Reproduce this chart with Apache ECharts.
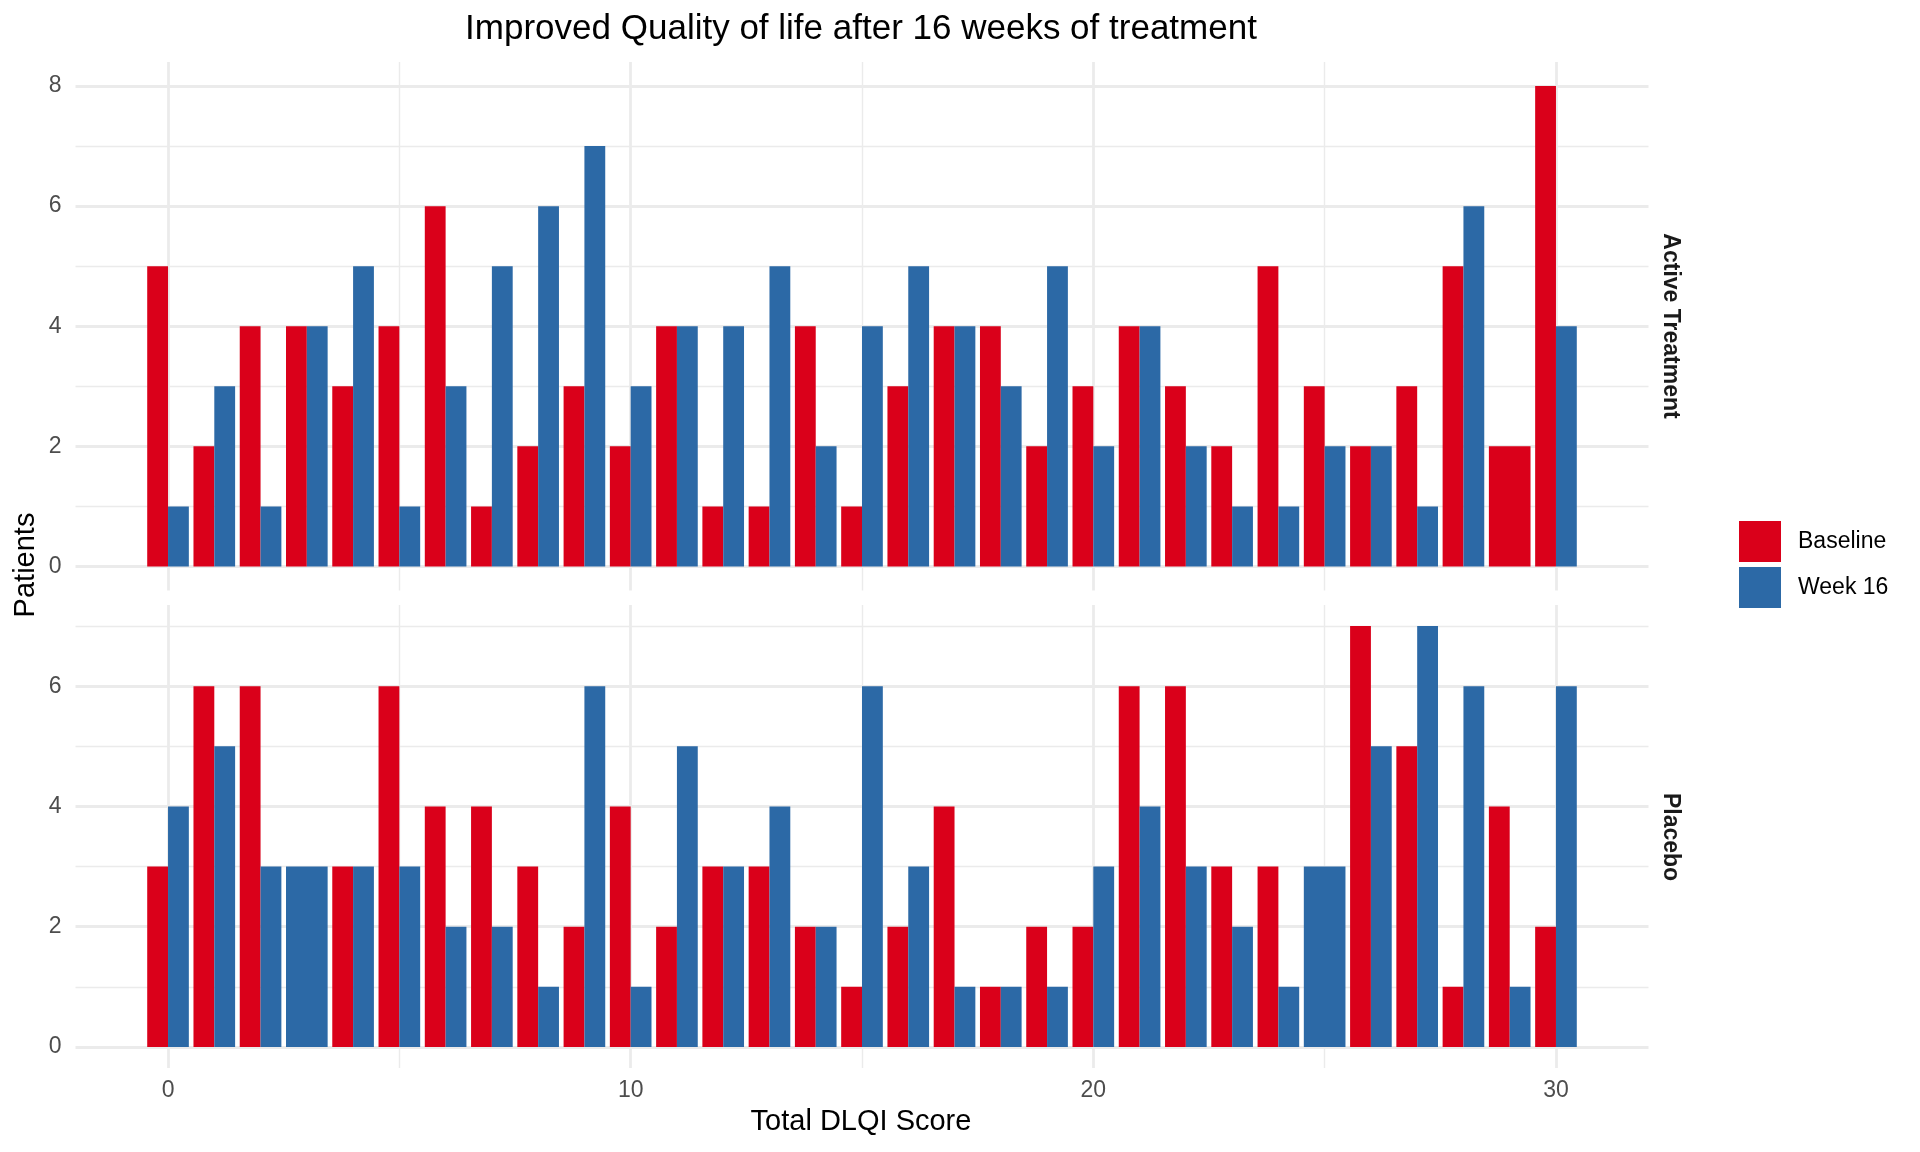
<!DOCTYPE html>
<html>
<head>
<meta charset="utf-8">
<title>Improved Quality of life after 16 weeks of treatment</title>
<script src="https://cdn.jsdelivr.net/npm/echarts@6/dist/echarts.min.js"></script>
<style>
  html, body { margin: 0; padding: 0; background: #fff; }
  #chart { width: 1920px; height: 1152px; }
</style>
</head>
<body>
<div id="chart"></div>
<script>
// Scores on the x axis
var scores = [0, 1, 2, 3, 4, 5, 6, 7, 8, 9, 10, 11, 12, 13, 14, 15, 16, 17, 18, 19, 20,
              21, 22, 23, 24, 25, 26, 27, 28, 29, 30];

// Patients per score (null = no bar)
var activeBaseline  = [5, 2, 4, 4, 3, 4, 6, 1, 2, 3, 2, 4, 1, 1, 4, 1, 3, 4, 4, 2, 3, 4, 3, 2, 5, 3, 2, 3, 5, 2, 8];
var activeWeek16    = [1, 3, 1, 4, 5, 1, 3, 5, 6, 7, 3, 4, 4, 5, 2, 4, 5, 4, 3, 5, 2, 4, 2, 1, 1, 2, 2, 1, 6, null, 4];
var placeboBaseline = [3, 6, 6, null, 3, 6, 4, 4, 3, 2, 4, 2, 3, 3, 2, 1, 2, 4, 1, 2, 2, 6, 6, 3, 3, null, 7, 5, 1, 4, 2];
var placeboWeek16   = [4, 5, 3, 3, 3, 3, 2, 2, 1, 6, 1, 5, 3, 4, 2, 6, 3, 1, 1, 1, 3, 4, 3, 2, 1, 3, 5, 7, 6, 1, 6];

var groups = ['Baseline', 'Week 16'];
var facets = ['Active Treatment', 'Placebo'];
var colors = ['#DA001A', '#2C69A6'];

var FONT = '"Liberation Sans", Arial, Helvetica, sans-serif';

// dodge like ggplot: two bars side by side, a lone bar takes the full width
// pos: -1 left half, 1 right half, 0 full width
function buildBars(values, other, side) {
    var out = [];
    for (var i = 0; i < scores.length; i++) {
        if (values[i] == null) continue;
        var pos = other[i] == null ? 0 : side;
        out.push([scores[i], values[i], pos]);
    }
    return out;
}

function renderBar(params, api) {
    var x = api.value(0);
    var y = api.value(1);
    var pos = api.value(2);
    var x0 = pos === 1 ? x : x - 0.45;
    var x1 = pos === -1 ? x : x + 0.45;
    var p0 = api.coord([x0, y]);
    var p1 = api.coord([x1, 0]);
    return {
        type: 'rect',
        shape: { x: p0[0], y: p0[1], width: p1[0] - p0[0], height: p1[1] - p0[1] },
        style: { fill: api.visual('color') }
    };
}

function makeXAxis(index, showLabels) {
    return {
        type: 'value',
        gridIndex: index,
        min: -2,
        max: 32,
        splitNumber: 3,
        axisLine: { show: false },
        axisTick: { show: false },
        axisLabel: {
            show: showLabels,
            margin: 11,
            color: '#4D4D4D',
            fontSize: 23,
            fontFamily: FONT,
            formatter: function(v) { return v % 10 === 0 ? String(v) : ''; }
        },
        splitLine: { show: true, showMinLine: false, showMaxLine: false,
                     lineStyle: { color: '#EBEBEB', width: 2.8 } },
        minorTick: { show: false, splitNumber: 2 },
        minorSplitLine: { show: true, lineStyle: { color: '#EBEBEB', width: 1.4 } }
    };
}

function makeYAxis(index, max, min) {
    return {
        type: 'value',
        gridIndex: index,
        min: min,
        max: max,
        axisLine: { show: false },
        axisTick: { show: false },
        axisLabel: {
            margin: 14,
            color: '#4D4D4D',
            fontSize: 23,
            fontFamily: FONT,
            formatter: function(v) { return Math.abs(v % 2) < 1e-9 ? String(v) : ''; }
        },
        splitLine: { show: true, showMinLine: false, showMaxLine: false,
                     lineStyle: { color: '#EBEBEB', width: 2.8 } },
        minorTick: { show: false, splitNumber: 2 },
        minorSplitLine: { show: true, lineStyle: { color: '#EBEBEB', width: 1.4 } }
    };
}

function barSeries(name, data, panel, colorIndex) {
    return {
        name: name,
        type: 'custom',
        xAxisIndex: panel,
        yAxisIndex: panel,
        renderItem: renderBar,
        encode: { x: 0, y: 1 },
        itemStyle: { color: colors[colorIndex] },
        clip: true,
        data: data
    };
}

var chart = echarts.init(document.getElementById('chart'));

var option = {
    animation: false,
    color: colors,
    grid: [
        { left: 75.5, top: 62, width: 1573, height: 528.5 },
        { left: 75.5, top: 605, width: 1573, height: 463 }
    ],
    xAxis: [makeXAxis(0, false), makeXAxis(1, true)],
    yAxis: [makeYAxis(0, 8.4, -0.4), makeYAxis(1, 7.35, -0.35)],
    legend: {
        data: groups,
        orient: 'vertical',
        left: 1739,
        top: 521,
        padding: 0,
        itemWidth: 42,
        itemHeight: 41,
        itemGap: 5,
        icon: 'rect',
        textStyle: { fontSize: 23, color: '#000', fontFamily: FONT, padding: [0, 0, 0, 12] }
    },
    graphic: [
        { type: 'text', x: 861, y: 29,
          style: { text: 'Improved Quality of life after 16 weeks of treatment', fill: '#000',
                   font: '35px ' + FONT, align: 'center', verticalAlign: 'middle' } },
        { type: 'text', x: 861, y: 1122,
          style: { text: 'Total DLQI Score', fill: '#000',
                   font: '29px ' + FONT, align: 'center', verticalAlign: 'middle' } },
        { type: 'text', x: 25.5, y: 565, rotation: Math.PI / 2,
          style: { text: 'Patients', fill: '#000',
                   font: '29px ' + FONT, align: 'center', verticalAlign: 'middle' } },
        { type: 'text', x: 1670, y: 326, rotation: -Math.PI / 2,
          style: { text: facets[0], fill: '#1A1A1A',
                   font: 'bold 23px ' + FONT, align: 'center', verticalAlign: 'middle' } },
        { type: 'text', x: 1670, y: 837, rotation: -Math.PI / 2,
          style: { text: facets[1], fill: '#1A1A1A',
                   font: 'bold 23px ' + FONT, align: 'center', verticalAlign: 'middle' } }
    ],
    series: [
        barSeries(groups[0], buildBars(activeBaseline, activeWeek16, -1), 0, 0),
        barSeries(groups[1], buildBars(activeWeek16, activeBaseline, 1), 0, 1),
        barSeries(groups[0], buildBars(placeboBaseline, placeboWeek16, -1), 1, 0),
        barSeries(groups[1], buildBars(placeboWeek16, placeboBaseline, 1), 1, 1)
    ]
};

chart.setOption(option);
</script>
</body>
</html>
